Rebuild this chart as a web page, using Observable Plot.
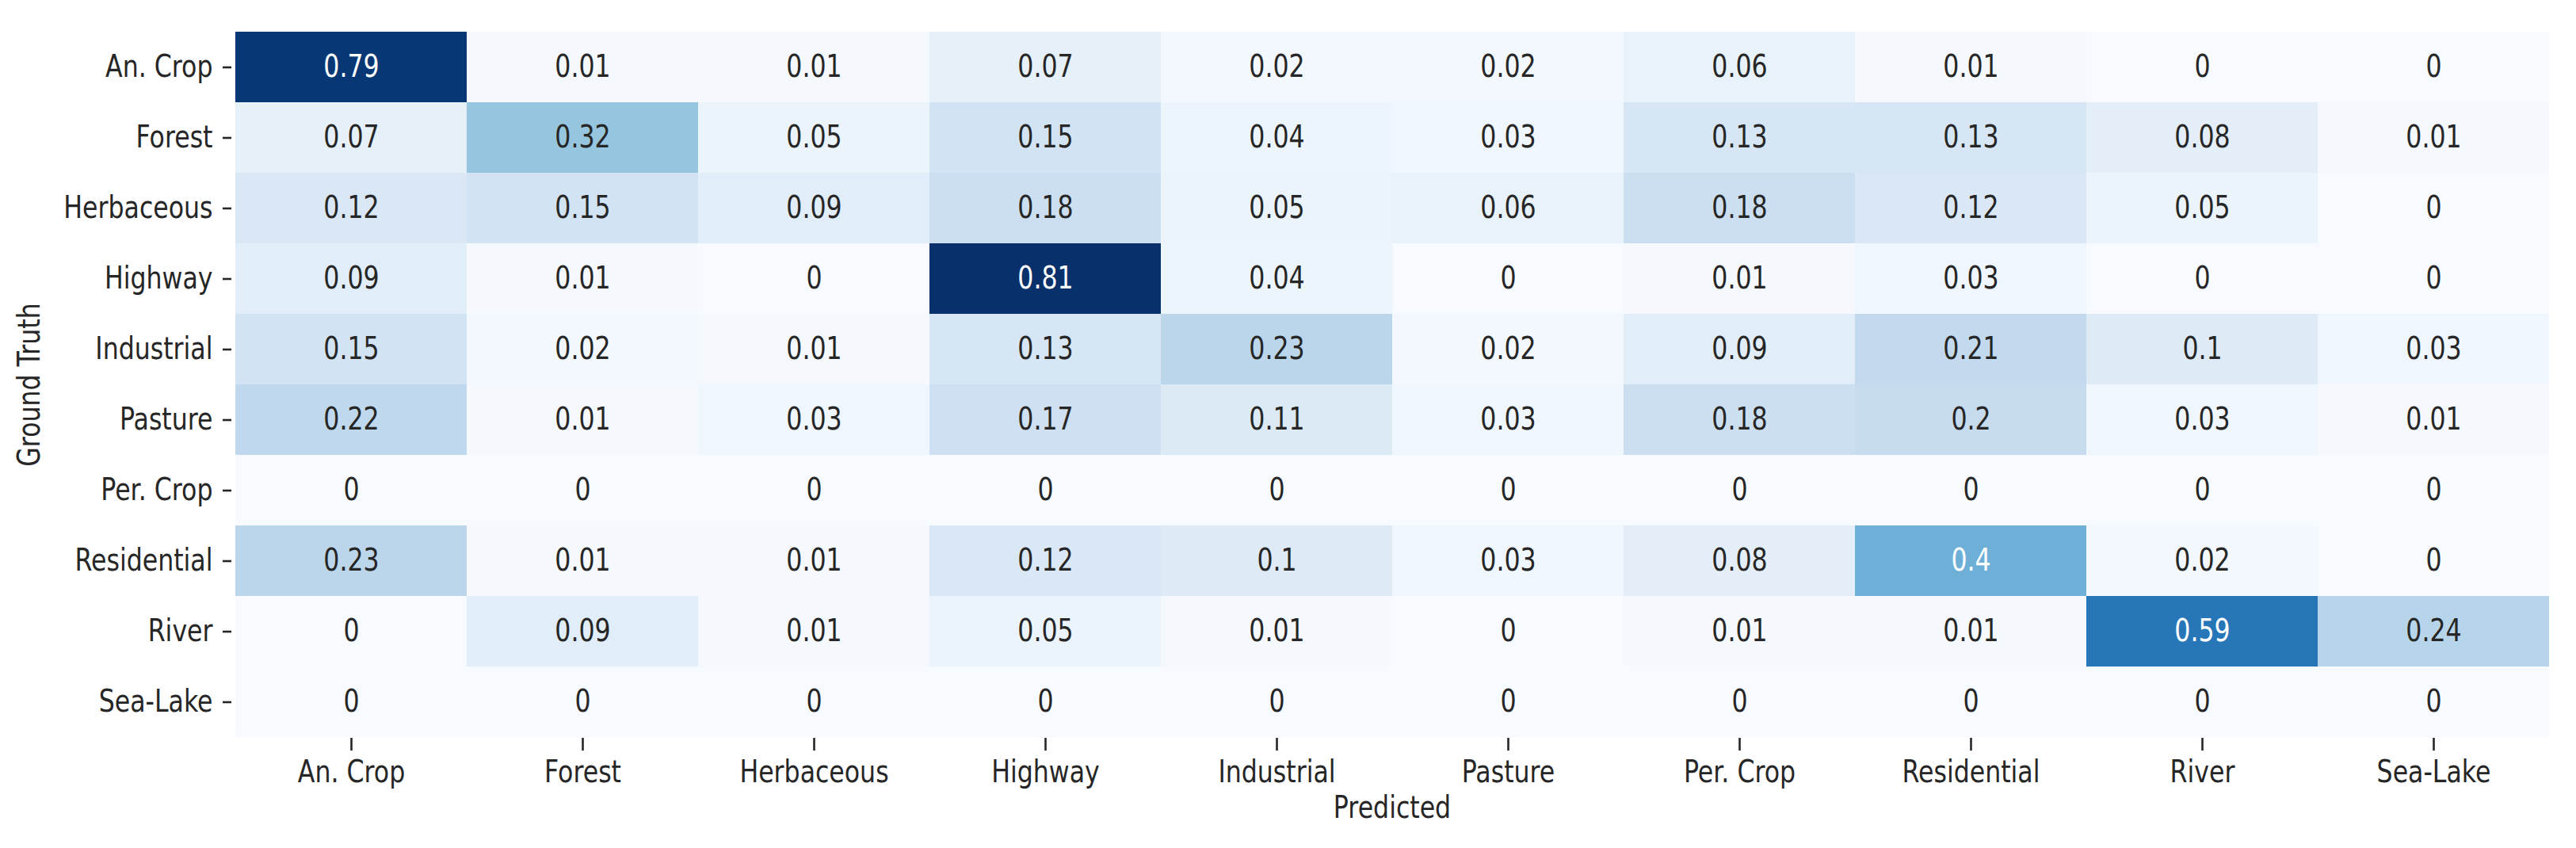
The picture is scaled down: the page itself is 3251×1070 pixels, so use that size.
<!DOCTYPE html>
<html>
<head>
<meta charset="utf-8">
<script src="https://cdn.jsdelivr.net/npm/d3@7"></script>
<script src="https://cdn.jsdelivr.net/npm/@observablehq/plot@0.6"></script>
<style>
  html, body { margin: 0; padding: 0; background: #fff; }
</style>
</head>
<body>
<div id="chart"></div>
<script>
// Categories
const predicted = ["An. Crop", "Forest", "Herbaceous", "Highway", "Industrial", "Pasture", "Per. Crop", "Residential", "River", "Sea-Lake"];
const truth = ["An. Crop", "Forest", "Herbaceous", "Highway", "Industrial", "Pasture", "Per. Crop", "Residential", "River", "Sea-Lake"];

// One row of the confusion matrix per ground-truth class
const rowAnCrop      = [0.79, 0.01, 0.01, 0.07, 0.02, 0.02, 0.06, 0.01, 0, 0];
const rowForest      = [0.07, 0.32, 0.05, 0.15, 0.04, 0.03, 0.13, 0.13, 0.08, 0.01];
const rowHerbaceous  = [0.12, 0.15, 0.09, 0.18, 0.05, 0.06, 0.18, 0.12, 0.05, 0];
const rowHighway     = [0.09, 0.01, 0, 0.81, 0.04, 0, 0.01, 0.03, 0, 0];
const rowIndustrial  = [0.15, 0.02, 0.01, 0.13, 0.23, 0.02, 0.09, 0.21, 0.1, 0.03];
const rowPasture     = [0.22, 0.01, 0.03, 0.17, 0.11, 0.03, 0.18, 0.2, 0.03, 0.01];
const rowPerCrop     = [0, 0, 0, 0, 0, 0, 0, 0, 0, 0];
const rowResidential = [0.23, 0.01, 0.01, 0.12, 0.1, 0.03, 0.08, 0.4, 0.02, 0];
const rowRiver       = [0, 0.09, 0.01, 0.05, 0.01, 0, 0.01, 0.01, 0.59, 0.24];
const rowSeaLake     = [0, 0, 0, 0, 0, 0, 0, 0, 0, 0];

const rows = [rowAnCrop, rowForest, rowHerbaceous, rowHighway, rowIndustrial, rowPasture, rowPerCrop, rowResidential, rowRiver, rowSeaLake];

const data = [];
rows.forEach((r, i) => r.forEach((v, j) => data.push({truth: truth[i], pred: predicted[j], value: v})));

// matplotlib "Blues" colormap (linear segments through ColorBrewer stops)
const blues = ["#f7fbff","#deebf7","#c6dbef","#9ecae1","#6baed6","#4292c6","#2171b5","#08519c","#08306b"];
const vmax = d3.max(data, d => d.value);
const stops = blues.map((_, i) => vmax * i / (blues.length - 1));
const cmap = d3.scaleLinear().domain(stops).range(blues).interpolate(d3.interpolateRgb);

function luminance(c) {
  const {r, g, b} = d3.rgb(c);
  const f = v => { v /= 255; return v <= 0.03928 ? v / 12.92 : Math.pow((v + 0.055) / 1.055, 2.4); };
  return 0.2126 * f(r) + 0.7152 * f(g) + 0.0722 * f(b);
}

const ink = "#262626";
const FS = 31.6;      // font size (horizontal metric)
const K = 1.21;       // glyph vertical stretch seen in the reference

const chart = Plot.plot({
  width: 3251,
  height: 1070,
  marginLeft: 292,
  marginRight: 30,
  marginTop: 39,
  marginBottom: 139,
  style: {fontFamily: "DejaVu Sans", fontSize: FS + "px", color: ink, background: "#fff"},
  x: {domain: predicted, padding: 0},
  y: {domain: truth, padding: 0},
  color: {type: "linear", domain: stops, range: blues, interpolate: "rgb"},
  marks: [
    Plot.cell(data, {x: "pred", y: "truth", fill: "value", inset: 0}),
    Plot.text(data, {
      x: "pred", y: "truth",
      text: d => String(d.value),
      fill: d => luminance(cmap(d.value)) < 0.408 ? "#ffffff" : ink
    }),
    Plot.axisX({tickSize: 16, tickPadding: 12, strokeWidth: 2.6, label: "Predicted", labelAnchor: "center", labelOffset: 100}),
    Plot.axisY({tickSize: 11, tickPadding: 13, strokeWidth: 2.6, label: "Ground Truth", labelAnchor: "center", labelOffset: 270})
  ]
});

// Stretch glyphs vertically (about their anchor) to match the reference's taller lettering
d3.select(chart).selectAll("text").each(function() {
  const t = d3.select(this);
  const tr = t.attr("transform");
  const x = t.attr("x"), y = t.attr("y");
  if (tr) {
    t.attr("transform", tr + ` scale(1,${K})`);
  } else {
    t.attr("transform", `translate(${x || 0},${y || 0}) scale(1,${K})`);
    t.attr("x", null).attr("y", null);
  }
});

document.getElementById("chart").appendChild(chart);
</script>
</body>
</html>
